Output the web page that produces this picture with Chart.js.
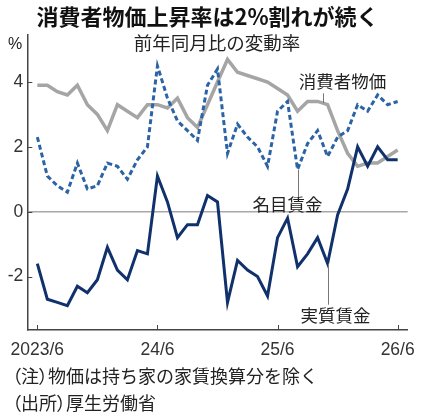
<!DOCTYPE html>
<html><head><meta charset="utf-8">
<script src="https://cdn.jsdelivr.net/npm/chart.js@4"></script>
<style>
html,body{margin:0;padding:0;background:#fff;}
#wrap{position:relative;width:425px;height:420px;overflow:hidden;font-family:"Noto Sans CJK JP",sans-serif;color:#222;}
#wrap canvas{position:absolute;left:0;top:0;}
.t{position:absolute;white-space:nowrap;line-height:1;}
.p{font-feature-settings:"palt";}
</style></head>
<body>
<div id="wrap">
<canvas id="c" width="425" height="420"></canvas>
<div class="t" id="title" style="left:0;width:415px;text-align:center;top:4px;font-size:22px;font-weight:bold;color:#111;">消費者物価上昇率は2%割れが続く</div>
<div class="t" style="left:0;width:434px;text-align:center;top:33px;font-size:18.5px;color:#222;">前年同月比の変動率</div>
<div class="t" style="left:8px;top:36px;font-size:16px;font-family:'Liberation Sans',sans-serif;color:#222;">%</div>
<div class="t" style="left:12px;top:366px;font-size:18px;color:#222;"><span class="p">（注）</span>物価は持ち家の家賃換算分を除く</div>
<div class="t" style="left:12px;top:393px;font-size:18px;color:#222;"><span class="p">（出所）</span>厚生労働省</div>
</div>
<script>
const months = ['2023/6','2023/7','2023/8','2023/9','2023/10','2023/11','2023/12','2024/1','2024/2','2024/3','2024/4','2024/5',
'2024/6','2024/7','2024/8','2024/9','2024/10','2024/11','2024/12','2025/1','2025/2','2025/3','2025/4','2025/5',
'2025/6','2025/7','2025/8','2025/9','2025/10','2025/11','2025/12','2026/1','2026/2','2026/3','2026/4','2026/5','2026/6'];
const cpi = [3.9,3.9,3.7,3.6,3.9,3.3,3.0,2.5,3.3,3.1,2.9,3.3,3.3,3.2,3.5,2.9,2.6,3.3,4.0,4.7,4.3,4.2,4.1,4.0,3.8,3.6,3.1,3.4,3.4,3.3,2.5,1.8,1.4,1.5,1.5,1.7,1.9];
const nominalWage = [2.3,1.1,0.8,0.6,1.5,0.7,0.8,1.5,1.4,1.0,1.6,2.0,4.5,3.5,2.8,2.5,2.2,3.9,4.4,1.8,2.7,2.3,2.0,1.4,3.1,3.4,1.3,2.1,2.5,1.7,2.3,2.5,3.3,3.1,3.6,3.3,3.4];
const realWage = [-1.6,-2.7,-2.8,-2.9,-2.3,-2.5,-2.1,-1.1,-1.8,-2.1,-1.2,-1.3,1.1,0.3,-0.8,-0.4,-0.4,0.5,0.3,-2.8,-1.5,-1.8,-2.0,-2.6,-0.8,-0.2,-1.7,-1.3,-0.8,-1.6,-0.1,0.7,2.0,1.4,2.0,1.6,1.6];
const seriesNames = ['消費者物価','名目賃金','実質賃金'];
const xTickIndex = [0,12,24,36];
const xTickLabels = ['2023/6','24/6','25/6','26/6'];
const yTicks = [-2,0,2,4];

const toXY = arr => arr.map((v,i)=>({x:i,y:v}));
const numFont = {family:"'Liberation Sans Narrow','Liberation Sans',sans-serif", size:17.5};

// series name annotations: anchor index on the series, text centre (index / value units), leader end (value units)
const notes = [
  {s:0, ax:28.5, tx:30.5, ty:4.03, ly:3.65},
  {s:1, ax:26,   tx:25.0, ty:0.24, ly:0.45},
  {s:2, ax:29,   tx:29.8, ty:-3.2, ly:-2.87}
];
const seriesData = [cpi, nominalWage, realWage];
function valueAt(arr, xi){
  const i0 = Math.floor(xi), i1 = Math.ceil(xi);
  if(i0===i1) return arr[i0];
  return arr[i0] + (arr[i1]-arr[i0])*(xi-i0);
}

const decor = {
  id:'decor',
  beforeDatasetsDraw(chart){
    const {ctx, scales:{x,y}, chartArea} = chart;
    ctx.save();
    ctx.strokeStyle = '#444';
    ctx.lineWidth = 1;
    xTickIndex.forEach(i=>{
      const px = Math.round(x.getPixelForValue(i))+0.5;
      ctx.beginPath(); ctx.moveTo(px, chartArea.bottom); ctx.lineTo(px, chartArea.bottom-5); ctx.stroke();
    });
    yTicks.forEach(v=>{
      const py = Math.round(y.getPixelForValue(v))+0.5;
      ctx.beginPath(); ctx.moveTo(chartArea.left, py); ctx.lineTo(chartArea.left+5, py); ctx.stroke();
    });
    ctx.restore();
  },
  afterDatasetsDraw(chart){
    const {ctx, scales:{x,y}} = chart;
    ctx.save();
    ctx.font = '17.5px "Noto Sans CJK JP"';
    ctx.fillStyle = '#222';
    ctx.textAlign = 'center';
    ctx.textBaseline = 'middle';
    notes.forEach(n=>{
      const px = Math.round(x.getPixelForValue(n.ax))+0.5;
      const y0 = y.getPixelForValue(valueAt(seriesData[n.s], n.ax));
      const y1 = y.getPixelForValue(n.ly);
      ctx.strokeStyle = '#777'; ctx.lineWidth = 1;
      ctx.beginPath(); ctx.moveTo(px, y0); ctx.lineTo(px, y1); ctx.stroke();
      ctx.fillText(seriesNames[n.s], x.getPixelForValue(n.tx), y.getPixelForValue(n.ty));
    });
    ctx.restore();
  }
};

new Chart(document.getElementById('c'), {
  type:'line',
  data:{
    datasets:[
      {label:seriesNames[0], data:toXY(cpi), borderColor:'#a5a5a5', borderWidth:3.5, pointRadius:0, tension:0, order:3},
      {label:seriesNames[1], data:toXY(nominalWage), borderColor:'#2b63a6', borderWidth:3, borderDash:[5,3], pointRadius:0, tension:0, order:2},
      {label:seriesNames[2], data:toXY(realWage), borderColor:'#10316b', borderWidth:3, pointRadius:0, tension:0, order:1}
    ]
  },
  options:{
    responsive:false,
    animation:false,
    devicePixelRatio:1,
    layout:{padding:{top:35,right:12,left:0,bottom:0}},
    plugins:{legend:{display:false},tooltip:{enabled:false},title:{display:false}},
    scales:{
      x:{
        type:'linear', min:-1, max:37,
        afterFit(s){ s.height = 90; },
        afterBuildTicks(s){ s.ticks = xTickIndex.map(v=>({value:v})); },
        grid:{display:false, drawTicks:false},
        border:{display:true, color:'#444', width:1.5},
        ticks:{padding:10, color:'#333', font:numFont, maxRotation:0, autoSkip:false,
          callback:(v)=>{ const k = xTickIndex.indexOf(v); return k>=0 ? xTickLabels[k] : ''; }}
      },
      y:{
        min:-3.65, max:5.45,
        afterFit(s){ s.width = 27; },
        afterBuildTicks(s){ s.ticks = yTicks.map(v=>({value:v})); },
        grid:{drawTicks:false, lineWidth:1.5, color:(c)=> c.tick && c.tick.value===0 ? '#a8a8a8' : 'rgba(0,0,0,0)'},
        border:{display:true, color:'#444', width:1.5},
        ticks:{padding:4, color:'#333', font:numFont}
      }
    }
  },
  plugins:[decor]
});
</script>
</body></html>
